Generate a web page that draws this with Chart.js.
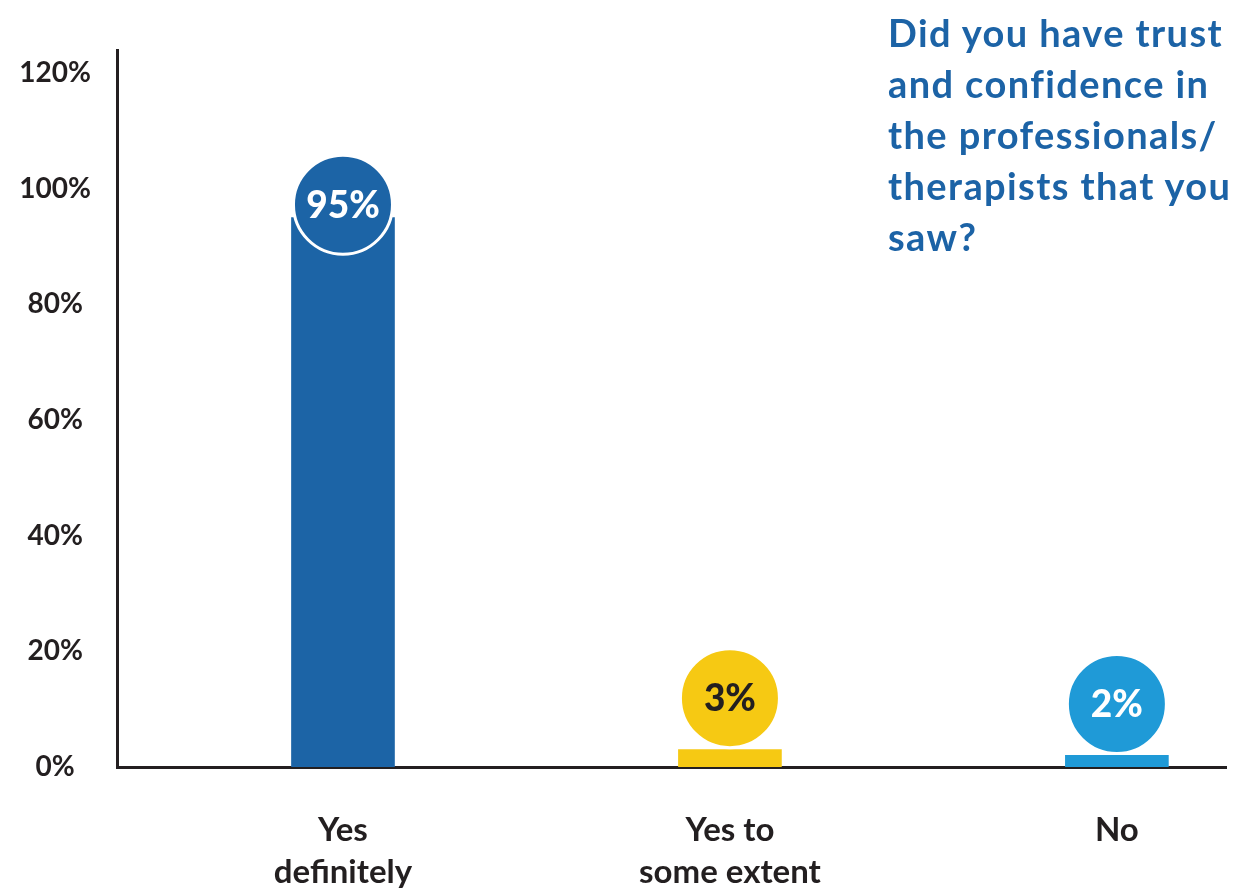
<!DOCTYPE html>
<html>
<head>
<meta charset="utf-8">
<script src="https://cdn.jsdelivr.net/npm/chart.js@4.4.1/dist/chart.umd.min.js"></script>
<style>
  body { margin: 0; background: #fff; }
  #wrap { position: relative; width: 1237px; height: 888px; }
  #question {
    position: absolute; left: 888px; top: 7px;
    font: bold 38px Lato, sans-serif; line-height: 51px; letter-spacing: 1.4px;
    color: #1c63a6; white-space: nowrap;
  }
</style>
</head>
<body>
<div id="wrap">
  <canvas id="trust-chart" width="1237" height="888"></canvas>
  <div id="question">Did you have trust<br>and confidence in<br>the professionals/<br>therapists that you<br>saw?</div>
</div>
<script>
// answers, one bar each
const categories = [['Yes', 'definitely'], ['Yes to', 'some extent'], ['No']];
const percentages = [95, 3, 2];
const yTicks = [0, 20, 40, 60, 80, 100, 120];

const barColors = ['#1c64a6', '#f6c913', '#1f9ad7'];
const badgeTextColors = ['#ffffff', '#231f20', '#ffffff'];
const ink = '#231f20';

// round percentage badge sitting on top of each bar
const badgePlugin = {
  id: 'badges',
  afterDatasetsDraw(chart) {
    const ctx = chart.ctx;
    const r = 49.5;
    chart.getDatasetMeta(0).data.forEach((bar, i) => {
      const h = bar.base - bar.y;
      const cy = h > 2 * r ? bar.y - 13 : bar.y - r - 2;
      ctx.save();
      ctx.beginPath();
      ctx.arc(bar.x, cy, r, 0, Math.PI * 2);
      ctx.fillStyle = barColors[i];
      ctx.fill();
      ctx.lineWidth = 3;
      ctx.strokeStyle = '#ffffff';
      ctx.stroke();
      ctx.fillStyle = badgeTextColors[i];
      ctx.font = '900 37px Lato, sans-serif';
      ctx.textAlign = 'center';
      ctx.textBaseline = 'middle';
      ctx.fillText(percentages[i] + '%', bar.x, cy + 1);
      ctx.restore();
    });
  }
};

new Chart(document.getElementById('trust-chart'), {
  type: 'bar',
  data: {
    datasets: [{
      data: percentages.map((v, i) => ({ x: i + 1, y: v })),
      backgroundColor: barColors,
      barThickness: 103
    }]
  },
  options: {
    responsive: false,
    animation: false,
    layout: { padding: { top: 50, right: 11, bottom: 0, left: 0 } },
    plugins: {
      legend: { display: false },
      tooltip: { enabled: false }
    },
    scales: {
      x: {
        type: 'linear',
        offset: false,
        min: 0.416,
        max: 3.282,
        afterFit(scale) { scale.height = 121; },
        afterBuildTicks(scale) { scale.ticks = categories.map((c, i) => ({ value: i + 1 })); },
        grid: { display: false },
        border: { color: ink, width: 3 },
        ticks: {
          autoSkip: false,
          maxRotation: 0,
          padding: 34,
          color: ink,
          font: { family: 'Lato', size: 33, weight: 'bold', lineHeight: 1.27 },
          callback: (v) => categories[v - 1]
        }
      },
      y: {
        min: 0,
        max: 124,
        afterFit(scale) { scale.width = 117; },
        afterBuildTicks(scale) { scale.ticks = yTicks.map(v => ({ value: v })); },
        grid: { display: false },
        border: { color: ink, width: 3 },
        ticks: {
          crossAlign: 'center',
          padding: 18,
          color: ink,
          font: { family: 'Lato', size: 28, weight: 'bold' },
          callback: (v) => v + '%'
        }
      }
    }
  },
  plugins: [badgePlugin]
});
</script>
</body>
</html>
